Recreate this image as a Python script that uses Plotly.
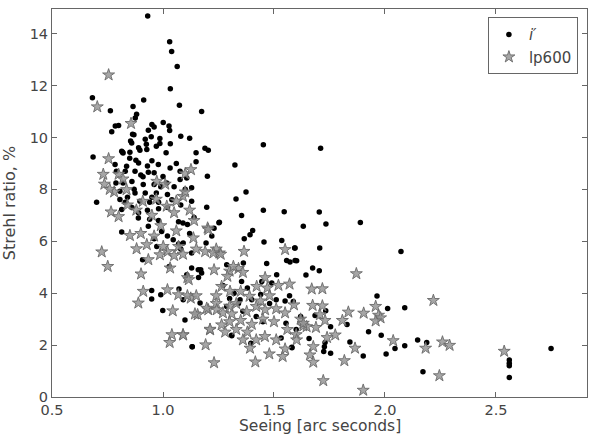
import plotly.graph_objects as go

# i' band (black dots): seeing [arcsec], Strehl ratio [%]
ip_seeing = [0.931,1.030,1.039,1.064,1.033,1.074,0.682,0.913,0.763,1.174,0.865,0.881,0.875,0.785,0.80,0.769,0.95,0.96,1.001,1.027,1.03,0.934,0.863,1.080,1.120,0.947,0.986,0.92,1.033,0.925,0.927,0.859,0.89,0.97,0.814,0.82,1.189,1.204,1.149,0.685,1.452,1.324,1.374,1.329,1.452,1.546,1.2,1.149,0.701,1.197,1.129,1.129,1.354,1.14,1.254,
    0.869,0.854,0.986,0.818,0.851,0.896,0.878,1.014,0.979,0.784,0.836,0.890,1.032,1.077,0.79,0.83,0.874,0.90,0.91,0.934,0.96,1.0,0.788,0.82,0.86,0.911,0.96,1.017,1.05,0.806,0.874,0.92,0.97,1.02,0.806,0.84,0.896,0.94,0.98,0.814,0.86,0.89,0.93,0.98,1.02,1.08,0.889,0.94,0.98,1.07,1.077,1.107,0.85,0.95,1.06,0.93,0.87,0.99,1.10,0.83,0.95,1.04,
    0.814,0.934,0.994,1.046,1.091,0.972,0.908,1.028,1.107,0.949,0.949,0.99,1.072,0.999,1.099,1.08,1.07,1.131,1.16,1.17,1.31,1.02,1.12,0.96,
    1.252,1.404,1.392,1.366,1.455,1.535,1.595,1.557,1.595,1.467,1.512,1.362,1.287,1.194,1.22,1.23,1.129,1.159,1.174,1.129,1.354,1.445,1.49,1.091,1.167,1.287,1.347,1.4,1.51,1.55,1.57,1.32,1.09,1.11,
    1.132,1.309,1.396,1.532,1.58,1.554,1.30,1.34,1.36,1.42,1.45,1.48,1.27,1.38,1.44,1.60,1.62,
    1.704,1.632,1.734,1.889,1.593,1.706,1.602,1.572,1.674,1.704,1.644,2.072,1.964,2.012,2.089,1.587,1.733,1.685,1.755,1.829,1.926,1.983,1.658,1.730,1.842,2.147,2.188,2.045,2.089,1.727,1.755,1.902,2.005,2.171,2.560,2.560,2.56,2.560,2.748,1.581,1.724,1.71]
ip_strehl = [14.68,13.69,13.31,12.73,11.88,11.24,11.53,11.44,11.03,11.0,11.19,10.89,10.75,10.44,10.46,10.22,10.5,10.4,10.58,10.44,10.27,10.28,10.12,10.05,9.97,10.03,9.96,9.93,9.76,9.74,9.54,9.79,9.6,9.66,9.47,9.4,9.58,9.51,9.41,9.25,9.72,8.94,7.9,7.63,7.20,7.14,8.51,9.06,7.50,7.31,8.06,7.54,6.99,6.92,6.73,
    10.1,9.86,9.77,9.43,9.43,9.51,9.12,9.41,8.96,8.96,8.89,9.02,8.82,8.7,8.7,8.7,8.7,8.55,8.49,8.66,8.64,8.5,8.25,8.25,8.3,8.19,8.19,8.25,8.1,7.93,7.86,7.86,7.86,7.8,7.61,7.7,7.54,7.5,7.5,7.22,7.3,7.1,7.2,7.25,7.3,7.4,6.9,6.85,6.8,6.75,8.38,8.44,9.2,9.1,9.0,8.9,8.0,8.1,8.0,7.5,7.7,7.6,
    6.36,6.58,6.38,6.06,5.93,5.80,5.29,5.03,4.71,4.10,3.78,3.94,4.16,3.33,2.97,5.7,5.9,1.94,4.6,4.9,2.36,6.2,6.3,6.1,
    6.71,6.42,6.25,6.1,5.97,6.03,5.74,5.26,5.26,5.14,4.71,5.16,5.1,5.93,6.2,6.5,5.55,4.9,4.78,4.97,4.45,4.45,4.39,3.75,3.62,3.49,3.75,3.75,3.75,3.7,3.9,4.0,6.7,6.65,
    1.94,2.38,2.07,2.27,1.92,2.84,3.8,3.6,3.3,3.1,2.9,3.6,4.3,4.2,3.95,2.6,3.1,
    7.13,6.58,6.67,6.72,5.74,5.74,5.25,5.2,4.97,4.86,4.70,5.61,3.89,3.41,3.44,3.68,3.32,3.14,2.71,2.79,2.51,2.38,2.25,2.10,2.12,2.20,2.10,1.87,1.97,1.94,1.69,1.58,1.66,0.97,1.43,1.30,1.2,0.75,1.87,1.90,1.75,9.58]

# lp600 (gray stars)
lp_seeing = [0.755,0.704,0.856,0.755,0.731,0.736,0.80,0.836,0.909,0.97,1.017,0.972,1.090,1.10,1.06,1.1,1.126,1.01,0.766,0.80,0.78,0.84,0.88,0.95,1.05,1.12,1.14,0.82,0.76,
    0.724,0.751,0.851,0.90,0.927,0.881,0.934,0.986,1.02,1.05,1.032,0.901,0.911,0.889,1.02,1.069,1.044,1.04,1.03,1.09,1.11,1.07,1.001,1.09,1.15,1.201,1.254,1.24,1.19,1.365,1.55,1.30,1.34,0.99,1.06,0.96,
    1.192,1.23,1.416,1.479,1.539,1.55,1.392,1.212,1.156,1.125,1.15,1.116,1.204,1.24,
    1.204,1.137,1.227,1.26,1.317,1.23,1.29,1.36,1.422,1.46,1.47,1.52,1.57,1.197,1.242,1.27,1.31,1.377,1.42,1.46,1.51,1.55,1.59,1.264,1.302,1.35,1.39,1.24,1.11,
    1.144,1.091,1.212,1.264,1.459,1.51,1.30,1.35,1.40,1.33,1.28,1.45,1.50,1.38,1.42,1.36,1.33,1.44,1.48,1.30,1.62,1.60,1.56,
    1.871,1.670,1.718,2.218,1.674,1.718,1.958,1.835,1.904,1.971,1.98,1.958,1.707,1.73,1.808,1.632,1.689,1.776,1.739,2.037,2.259,2.291,1.865,2.183,2.537,1.677,1.662,1.677,1.817,2.245,1.722,1.902,1.602,1.647,1.632]
lp_strehl = [12.41,11.18,10.54,9.18,8.58,8.20,8.58,7.99,7.54,7.62,7.35,8.31,7.73,7.9,7.55,8.6,8.76,8.2,7.13,6.95,7.9,7.4,7.2,7.0,7.1,7.2,6.8,8.4,8.0,
    5.59,5.03,6.22,6.3,5.87,5.71,5.29,5.48,5.6,5.45,4.97,4.74,4.07,3.62,4.13,3.94,3.32,2.4,2.1,2.4,4.6,5.8,5.80,5.5,5.7,6.51,5.55,5.7,5.6,5.61,5.68,4.85,4.95,6.6,6.4,6.2,
    2.01,1.32,1.35,1.66,1.56,1.85,1.88,2.59,3.17,3.81,3.9,4.52,3.36,3.6,
    6.45,6.13,5.55,5.5,5.03,4.9,4.65,4.8,4.26,4.6,4.2,4.3,4.35,3.42,3.36,3.24,3.2,3.29,3.49,3.36,3.4,3.24,3.55,4.26,4.07,4.07,3.88,3.9,3.9,
    3.2,2.39,2.61,2.78,2.33,2.2,2.9,2.95,2.8,2.6,2.5,3.0,2.9,2.5,2.2,2.2,3.6,3.7,3.9,3.5,3.0,2.4,2.6,
    4.75,4.16,4.17,3.72,3.53,3.51,3.49,3.27,3.23,3.15,3.05,2.93,3.17,2.95,2.95,2.74,2.68,2.39,2.29,2.17,2.12,1.99,1.88,1.88,1.76,1.94,1.62,1.34,1.40,0.82,0.63,0.26,2.2,2.71,2.84]

x_ticks = [0.5, 1.0, 1.5, 2.0, 2.5]
y_ticks = [0, 2, 4, 6, 8, 10, 12, 14]

fig = go.Figure()
fig.add_trace(go.Scatter(
    x=ip_seeing, y=ip_strehl, mode="markers", name="<i>i′</i>",
    marker=dict(symbol="circle", size=5.5, color="black", line=dict(width=0)),
))
fig.add_trace(go.Scatter(
    x=lp_seeing, y=lp_strehl, mode="markers", name="lp600",
    marker=dict(symbol="star", size=9, color="rgba(150,150,150,0.85)",
                line=dict(width=1, color="rgba(105,105,105,0.9)")),
))

font_fam = "DejaVu Sans"
axis_common = dict(
    showgrid=False, zeroline=False, showline=True, linecolor="#666", linewidth=1,
    mirror="ticks", ticks="inside", ticklen=5, tickcolor="#666", automargin=False,
    tickfont=dict(family=font_fam, size=14.5, color="#444"),
)
fig.update_xaxes(range=[0.5, 2.91], tickvals=x_ticks, ticktext=[f"{v:.1f}" for v in x_ticks],
                 **axis_common)
fig.update_yaxes(range=[0, 14.95], tickvals=y_ticks,
                 title=dict(text="Strehl ratio, %", font=dict(family=font_fam, size=16, color="#444")),
                 **axis_common)
fig.add_annotation(text="Seeing [arc seconds]", xref="paper", yref="paper", x=0.5, y=0,
                   xanchor="center", yanchor="bottom", yshift=-40, showarrow=False,
                   font=dict(family=font_fam, size=15.5, color="#444"))
fig.update_layout(
    width=600, height=437,
    margin=dict(l=52, r=13, t=9, b=40),
    plot_bgcolor="white", paper_bgcolor="white",
    showlegend=True,
    legend=dict(x=0.983, y=0.979, xanchor="right", yanchor="top",
                bgcolor="white", bordercolor="#666", borderwidth=1,
                font=dict(family=font_fam, size=15, color="#444")),
)
fig.write_html("out.html")
